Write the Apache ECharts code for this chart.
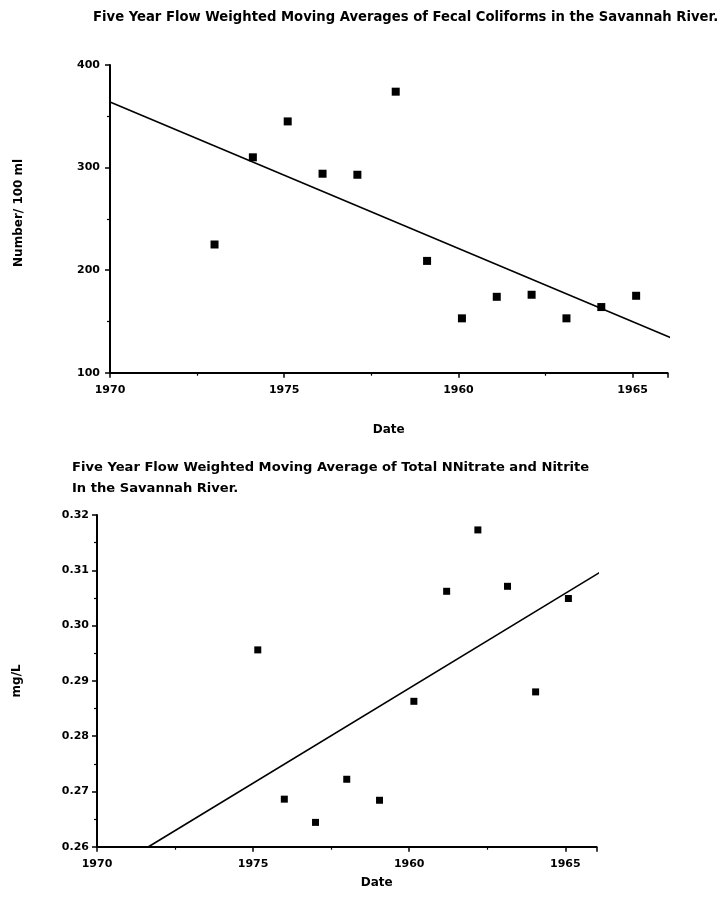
<!DOCTYPE html>
<html>
<head>
<meta charset="utf-8">
<script src="https://cdn.jsdelivr.net/npm/echarts@6/dist/echarts.min.js"></script>
<style>html,body{margin:0;padding:0;background:#fff}#c{width:721px;height:915px}</style>
</head>
<body>
<div id="c"></div>
<script>
// ---- Data ----
const title1 = 'Five Year Flow Weighted Moving Averages of Fecal Coliforms in the Savannah River.';
const title2 = 'Five Year Flow Weighted Moving Average of Total NNitrate and Nitrite\nIn the Savannah River.';
const xTickValues = [1970, 1975, 1980, 1985];
const xTickLabels = ['1970', '1975', '1960', '1965'];
const yLabel1 = 'Number/ 100 ml';
const yLabel2 = 'mg/L';
const xLabel = 'Date';

const fecalYears = [1973.0, 1974.1, 1975.1, 1976.1, 1977.1, 1978.2, 1979.1, 1980.1, 1981.1, 1982.1, 1983.1, 1984.1, 1985.1];
const fecalValues = [225, 310, 345, 294, 293, 374, 209, 153, 174, 176, 153, 164, 175];
const fecalTrendYears = [1970, 1986.1];
const fecalTrendValues = [364, 134];

const nitrateYears = [1975.15, 1976.0, 1977.0, 1978.0, 1979.05, 1980.15, 1981.2, 1982.2, 1983.15, 1984.05, 1985.1];
const nitrateValues = [0.2956, 0.2686, 0.2644, 0.2722, 0.2684, 0.2863, 0.3062, 0.3173, 0.3071, 0.2880, 0.3049];
const nitrateTrendYears = [1971.65, 1986.1];
const nitrateTrendValues = [0.2600, 0.3096];

// ---- Build ----
const pair = (xs, ys) => xs.map((x, i) => [x, ys[i]]);
const FONT = 'DejaVu Sans';
const lblStyle = { color: '#000', fontFamily: FONT, fontWeight: 'bold', fontSize: 11 };
const axisLineStyle = { show: true, lineStyle: { color: '#000', width: 2 } };
const tickStyle = { show: true, inside: false, length: 5, lineStyle: { color: '#000', width: 1.5 } };
const minorStyle = { show: true, splitNumber: 2, length: 3, lineStyle: { color: '#000', width: 1.2 } };

function xAxisDef(gridIndex, gap, pad) {
  return {
    type: 'value', gridIndex, min: 1970, max: 1986, interval: 5,
    axisLine: axisLineStyle, axisTick: tickStyle, minorTick: minorStyle,
    splitLine: { show: false },
    axisLabel: Object.assign({}, lblStyle, {
      margin: 12, showMaxLabel: false,
      formatter: v => { const i = xTickValues.indexOf(Math.round(v)); return (Math.abs(v - Math.round(v)) < 1e-6 && i >= 0) ? xTickLabels[i] : ''; }
    }),
    name: xLabel, nameLocation: 'middle', nameGap: gap,
    nameTextStyle: { color: '#000', fontFamily: FONT, fontWeight: 'bold', fontSize: 12, padding: pad }
  };
}

const option = {
  backgroundColor: '#fff',
  animation: false,
  title: [
    { text: title1, left: 93, top: 11, padding: 0, textStyle: { color: '#000', fontFamily: FONT, fontWeight: 'bold', fontSize: 13.2 } },
    { text: title2, left: 72, top: 457, padding: 0, textStyle: { color: '#000', fontFamily: FONT, fontWeight: 'bold', fontSize: 13.1, lineHeight: 21 } }
  ],
  grid: [
    { left: 110, right: 53.5, top: 65, bottom: 542.3, outerBoundsMode: 'none', containLabel: false },
    { left: 97, right: 124.5, top: 515, bottom: 68.3, outerBoundsMode: 'none', containLabel: false }
  ],
  xAxis: [
    xAxisDef(0, 51, [0, 0, 0, 0]),
    xAxisDef(1, 30, [0, 0, 0, 60])
  ],
  yAxis: [
    {
      type: 'value', gridIndex: 0, min: 100, max: 400, interval: 100,
      axisLine: axisLineStyle, axisTick: tickStyle, minorTick: minorStyle,
      splitLine: { show: false },
      axisLabel: Object.assign({}, lblStyle, { margin: 10 }),
      name: yLabel1, nameLocation: 'middle', nameGap: 85, nameRotate: 90,
      nameTextStyle: { color: '#000', fontFamily: FONT, fontWeight: 'bold', fontSize: 12, padding: [0, 0, 0, 12] }
    },
    {
      type: 'value', gridIndex: 1, min: 0.26, max: 0.32, interval: 0.01,
      axisLine: axisLineStyle, axisTick: tickStyle, minorTick: minorStyle,
      splitLine: { show: false },
      axisLabel: Object.assign({}, lblStyle, { margin: 8, formatter: v => v.toFixed(2) }),
      name: yLabel2, nameLocation: 'middle', nameGap: 74, nameRotate: 90,
      nameTextStyle: { color: '#000', fontFamily: FONT, fontWeight: 'bold', fontSize: 12 }
    }
  ],
  series: [
    {
      type: 'scatter', xAxisIndex: 0, yAxisIndex: 0, symbol: 'rect', symbolSize: 8,
      itemStyle: { color: '#000', opacity: 1 }, data: pair(fecalYears, fecalValues)
    },
    {
      type: 'line', xAxisIndex: 0, yAxisIndex: 0, symbol: 'none',
      lineStyle: { color: '#000', width: 1.6 }, data: pair(fecalTrendYears, fecalTrendValues)
    },
    {
      type: 'scatter', xAxisIndex: 1, yAxisIndex: 1, symbol: 'rect', symbolSize: 7,
      itemStyle: { color: '#000', opacity: 1 }, data: pair(nitrateYears, nitrateValues)
    },
    {
      type: 'line', xAxisIndex: 1, yAxisIndex: 1, symbol: 'none',
      lineStyle: { color: '#000', width: 1.6 }, data: pair(nitrateTrendYears, nitrateTrendValues)
    }
  ]
};
const chart = echarts.init(document.getElementById('c'), null, { renderer: 'canvas' });
chart.setOption(option);
</script>
</body>
</html>
